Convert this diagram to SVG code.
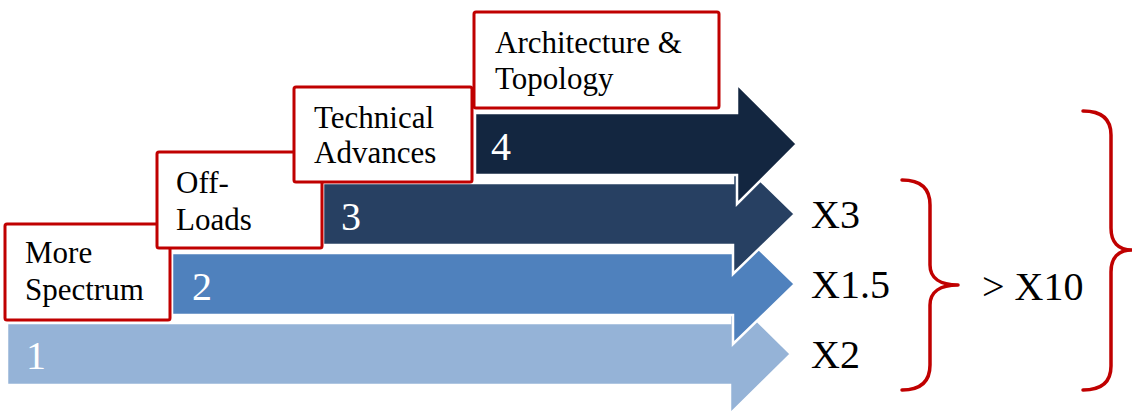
<svg xmlns="http://www.w3.org/2000/svg" width="1132" height="411" viewBox="0 0 1132 411">
<style>
  .arrow { stroke: #FFFFFF; stroke-width: 2.5; stroke-linejoin: miter; }
  .num { font-family: "Liberation Serif", "Times New Roman", serif; font-size: 40px; fill: #FFFFFF; }
  .box { fill: #FFFFFF; stroke: #C00000; stroke-width: 3; }
  .lbl { font-family: "Liberation Serif", "Times New Roman", serif; font-size: 31px; fill: #000000; }
  .mult { font-family: "Liberation Serif", "Times New Roman", serif; font-size: 40px; fill: #000000; }
  .brace { fill: none; stroke: #C00000; stroke-width: 3.5; stroke-linecap: round; stroke-linejoin: round; }
</style>
<rect width="1132" height="411" fill="#FFFFFF"/>
<g id="arrow1">
  <path class="arrow" fill="#95B3D7" d="M7 323 L730 323 L730 294 L791 354 L730 414 L730 385 L7 385 Z"/>
  <text class="num" x="26" y="369">1</text>
</g>
<g id="arrow2">
  <path class="arrow" fill="#4F81BD" d="M172 253 L733 253 L733 224 L795 284 L733 344 L733 315 L172 315 Z"/>
  <text class="num" x="192" y="300">2</text>
</g>
<g id="arrow3">
  <path class="arrow" fill="#274062" d="M323 183 L733 183 L733 154 L795 214 L733 274 L733 245 L323 245 Z"/>
  <text class="num" x="341" y="230">3</text>
</g>
<g id="arrow4">
  <path class="arrow" fill="#132640" d="M475 113 L737 113 L737 84 L797 144 L737 204 L737 175 L475 175 Z"/>
  <text class="num" x="491" y="160">4</text>
</g>
<g id="box1">
  <rect class="box" x="5" y="224" width="165" height="96" rx="2"/>
  <text class="lbl" x="25" y="263">More</text>
  <text class="lbl" x="25" y="300">Spectrum</text>
</g>
<g id="box2">
  <rect class="box" x="157" y="152" width="165" height="96" rx="2"/>
  <text class="lbl" x="176" y="193">Off-</text>
  <text class="lbl" x="176" y="230">Loads</text>
</g>
<g id="box3">
  <rect class="box" x="294" y="87" width="178" height="95" rx="2"/>
  <text class="lbl" x="314" y="128">Technical</text>
  <text class="lbl" x="314" y="163">Advances</text>
</g>
<g id="box4">
  <rect class="box" x="474" y="12" width="245" height="96" rx="2"/>
  <text class="lbl" x="495" y="53">Architecture &amp;</text>
  <text class="lbl" x="495" y="89">Topology</text>
</g>
<g id="multipliers">
  <text class="mult" x="811" y="228">X3</text>
  <text class="mult" x="811" y="298">X1.5</text>
  <text class="mult" x="811" y="368">X2</text>
</g>
<g id="braces">
  <path class="brace" d="M902 180 C922 180 930 190 930 205 L930 265 C930 278 940 285 958 285 C940 285 930 292 930 305 L930 365 C930 380 922 390 902 390"/>
  <path class="brace" d="M1083 111 C1103 111 1111 120 1111 135 L1111 228 C1111 242 1118 250 1132 250 C1118 250 1111 258 1111 272 L1111 366 C1111 381 1103 390 1083 390"/>
</g>
<g id="total">
  <text class="mult" x="982" y="300" font-size="41">&gt; X10</text>
</g>
</svg>
